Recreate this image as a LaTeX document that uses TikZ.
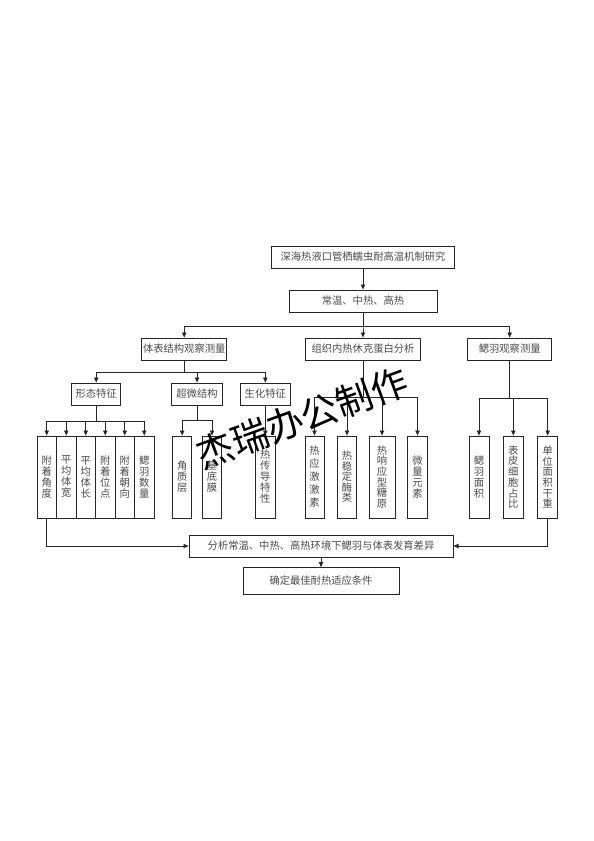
\documentclass[tikz,border=0pt]{standalone}
\usepackage{fontspec}
\setmainfont{Noto Sans CJK SC}
\usetikzlibrary{arrows.meta, positioning, calc}

\begin{document}
\begin{tikzpicture}[
  x=1pt, y=-1pt,
  box/.style={
    draw=black!85,
    line width=0.8pt,
    align=center,
    inner sep=0pt,
    outer sep=0pt,
    minimum height=22pt,
    text=black!70,
    font=\fontsize{10.3}{12}\selectfont
  },
  vbox/.style={
    box,
    minimum width=19.5pt,
    minimum height=82pt,
    font=\fontsize{10.3}{11}\selectfont
  },
  arrow/.style={-{Latex[length=5.5pt,width=5pt]}, line width=0.8pt, draw=black!85}
]
\useasboundingbox[fill=white] (0,0) rectangle (594,841);

% Research topic
\node[box, minimum width=183pt] (topic) at (363,257) {深海热液口管栖蠕虫耐高温机制研究};
\node[box, minimum width=148pt] (temp) at (363,301) {常温、中热、高热};

% Three measurement branches
\node[box, minimum width=85pt] (surface) at (184.2,349) {体表结构观察测量};
\node[box, minimum width=115pt] (protein) at (363,349) {组织内热休克蛋白分析};
\node[box, minimum width=84pt] (gill) at (509.7,349) {鳃羽观察测量};

% Surface structure branch
\node[box, minimum width=49pt] (shape) at (96.2,394) {形态特征};
\node[box, minimum width=50.5pt] (ultra) at (197,394) {超微结构};
\node[box, minimum width=50.7pt] (biochem) at (265.3,394) {生化特征};

\node[vbox] (attAngle) at (46.75,477) {附\\着\\角\\度};
\node[vbox, right=0pt of attAngle] (avgWidth) {平\\均\\体\\宽};
\node[vbox, right=0pt of avgWidth] (avgLength) {平\\均\\体\\长};
\node[vbox, right=0pt of avgLength] (attSite) {附\\着\\位\\点};
\node[vbox, right=0pt of attSite] (attDir) {附\\着\\朝\\向};
\node[vbox, right=0pt of attDir] (gillNum) {鳃\\羽\\数\\量};

\node[vbox, minimum width=19pt] (cuticle) at (182.2,477) {角\\质\\层};
\node[vbox, minimum width=19.4pt] (basal) at (212,477) {基\\底\\膜};
\node[vbox, minimum width=20pt] (heatCond) at (265.3,477) {热\\传\\导\\特\\性};

% Heat shock protein branch
\node[vbox, minimum width=19pt, font=\fontsize{10.3}{13}\selectfont] (hormone) at (314.5,477) {热\\应\\激\\激\\素};
\node[vbox, minimum width=19.4pt, font=\fontsize{10.3}{10.5}\selectfont] (enzyme) at (347,477) {热\\稳\\定\\酶\\类};
\node[vbox, minimum width=26pt, font=\fontsize{10.3}{10.7}\selectfont] (glycogen) at (382,477) {热\\响\\应\\型\\糖\\原};
\node[vbox, minimum width=19.6pt] (element) at (417.5,477) {微\\量\\元\\素};

% Gill branch
\node[vbox, minimum width=20pt] (gillArea) at (479,477) {鳃\\羽\\面\\积};
\node[vbox, minimum width=20pt, font=\fontsize{10.3}{10.7}\selectfont] (cellRatio) at (513.3,477) {表\\皮\\细\\胞\\占\\比};
\node[vbox, minimum width=20pt, font=\fontsize{10.3}{10.7}\selectfont] (dryWeight) at (547.7,477) {单\\位\\面\\积\\干\\重};

% Analysis and result
\node[box, minimum width=264pt] (analysis) at (321,546) {分析常温、中热、高热环境下鳃羽与体表发育差异};
\node[box, minimum width=156pt, minimum height=27pt] (result) at (321,581) {确定最佳耐热适应条件};

% Arrows
\draw[arrow] (topic) -- (temp);
\foreach \c in {surface, protein, gill}
  \draw[arrow] (temp.south) -- ++(0,14) -| (\c.north);

\foreach \c in {shape, ultra, biochem}
  \draw[arrow] (surface.south) -- ++(0,12) -| (\c.north);

\foreach \c in {attAngle, avgWidth, avgLength, attSite, attDir, gillNum}
  \draw[arrow] (shape.south) -- ++(0,16) -| (\c.north);

\foreach \c in {cuticle, basal}
  \draw[arrow] (ultra.south) -- ++(0,15) -| (\c.north);
\draw[arrow] (biochem) -- (heatCond);

\foreach \c in {hormone, enzyme, glycogen, element}
  \draw[arrow] (protein.south) -- ++(0,37) -| (\c.north);

\foreach \c in {gillArea, cellRatio, dryWeight}
  \draw[arrow] (gill.south) -- ++(0,38) -| (\c.north);

\draw[arrow] (attAngle.south) |- (analysis.west);
\draw[arrow] (dryWeight.south) |- (analysis.east);
\draw[arrow] (analysis) -- (result);

% Watermark
\node[rotate=20, font=\fontsize{37}{37}\selectfont] (mark) at (302,418) {杰瑞办公制作};

\end{tikzpicture}
\end{document}
